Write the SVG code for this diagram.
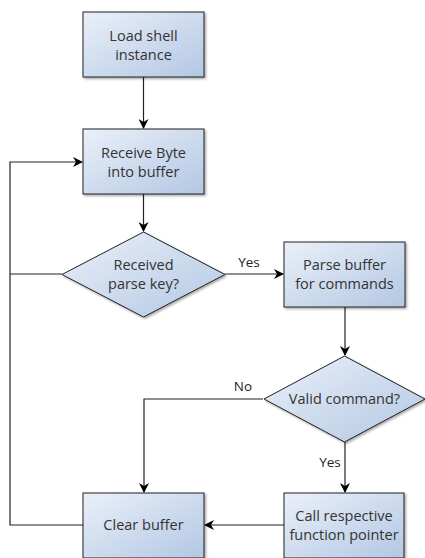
<svg xmlns="http://www.w3.org/2000/svg" width="425" height="558" viewBox="0 0 425 558">
<defs>
<linearGradient id="g" x1="0" y1="0" x2="1" y2="1">
<stop offset="0" stop-color="#eaf0f9"/>
<stop offset="1" stop-color="#b3c7e3"/>
</linearGradient>
<marker id="a" markerWidth="10" markerHeight="10" refX="9" refY="5" orient="auto" markerUnits="userSpaceOnUse">
<path d="M0,0 L10,5 L0,10 L3,5 Z" fill="#000"/>
</marker>
<filter id="s" x="-10%" y="-10%" width="130%" height="130%">
<feDropShadow dx="1.5" dy="1.5" stdDeviation="0.8" flood-color="#000" flood-opacity="0.35"/>
</filter>
</defs>
<style>
.n{fill:url(#g);stroke:#222;stroke-width:1;filter:url(#s)}
.t{font-family:"Open Sans","Noto Sans",sans-serif;font-size:14.5px;fill:#333;text-anchor:middle}
.c{fill:none;stroke:#222;stroke-width:1.2}
.l{font-family:"Open Sans","Noto Sans",sans-serif;font-size:13.5px;fill:#222;text-anchor:middle}
</style>
<rect width="425" height="558" fill="#fff"/>
<g id="connectors">
<path class="c" d="M143.5,77 V128" marker-end="url(#a)"/>
<path class="c" d="M143.5,194 V231" marker-end="url(#a)"/>
<path class="c" d="M225,274 H283" marker-end="url(#a)"/>
<path class="c" d="M345,307 V355" marker-end="url(#a)"/>
<path class="c" d="M263,399 H144 V492" marker-end="url(#a)"/>
<path class="c" d="M345,442 V492" marker-end="url(#a)"/>
<path class="c" d="M284,525 H205" marker-end="url(#a)"/>
<path class="c" d="M83,525 H10 V162 H82" marker-end="url(#a)"/>
<path class="c" d="M62,274 H10"/>
<text class="l" x="249" y="267">Yes</text>
<text class="l" x="243" y="391">No</text>
<text class="l" x="330" y="467">Yes</text>
</g>
<g id="load">
<rect class="n" x="83" y="12" width="121" height="65"/>
<text class="t" x="143.5" y="41">Load shell</text>
<text class="t" x="143.5" y="60">instance</text>
</g>
<g id="receive">
<rect class="n" x="83" y="129" width="121" height="65"/>
<text class="t" x="143.5" y="158">Receive Byte</text>
<text class="t" x="143.5" y="177">into buffer</text>
</g>
<g id="parsekey">
<polygon class="n" points="143.5,232 225,274.5 143.5,317 62,274.5"/>
<text class="t" x="143.5" y="270">Received</text>
<text class="t" x="143.5" y="289">parse key?</text>
</g>
<g id="parse">
<rect class="n" x="284" y="242" width="121" height="65"/>
<text class="t" x="344.5" y="270">Parse buffer</text>
<text class="t" x="344.5" y="289">for commands</text>
</g>
<g id="valid">
<polygon class="n" points="344.5,356 425,399 344.5,442 264,399"/>
<text class="t" x="344.5" y="404">Valid command?</text>
</g>
<g id="clear">
<rect class="n" x="83" y="493" width="121" height="65"/>
<text class="t" x="143.5" y="530">Clear buffer</text>
</g>
<g id="call">
<rect class="n" x="284" y="493" width="120" height="65"/>
<text class="t" x="344" y="521">Call respective</text>
<text class="t" x="344" y="540">function pointer</text>
</g>
</svg>
